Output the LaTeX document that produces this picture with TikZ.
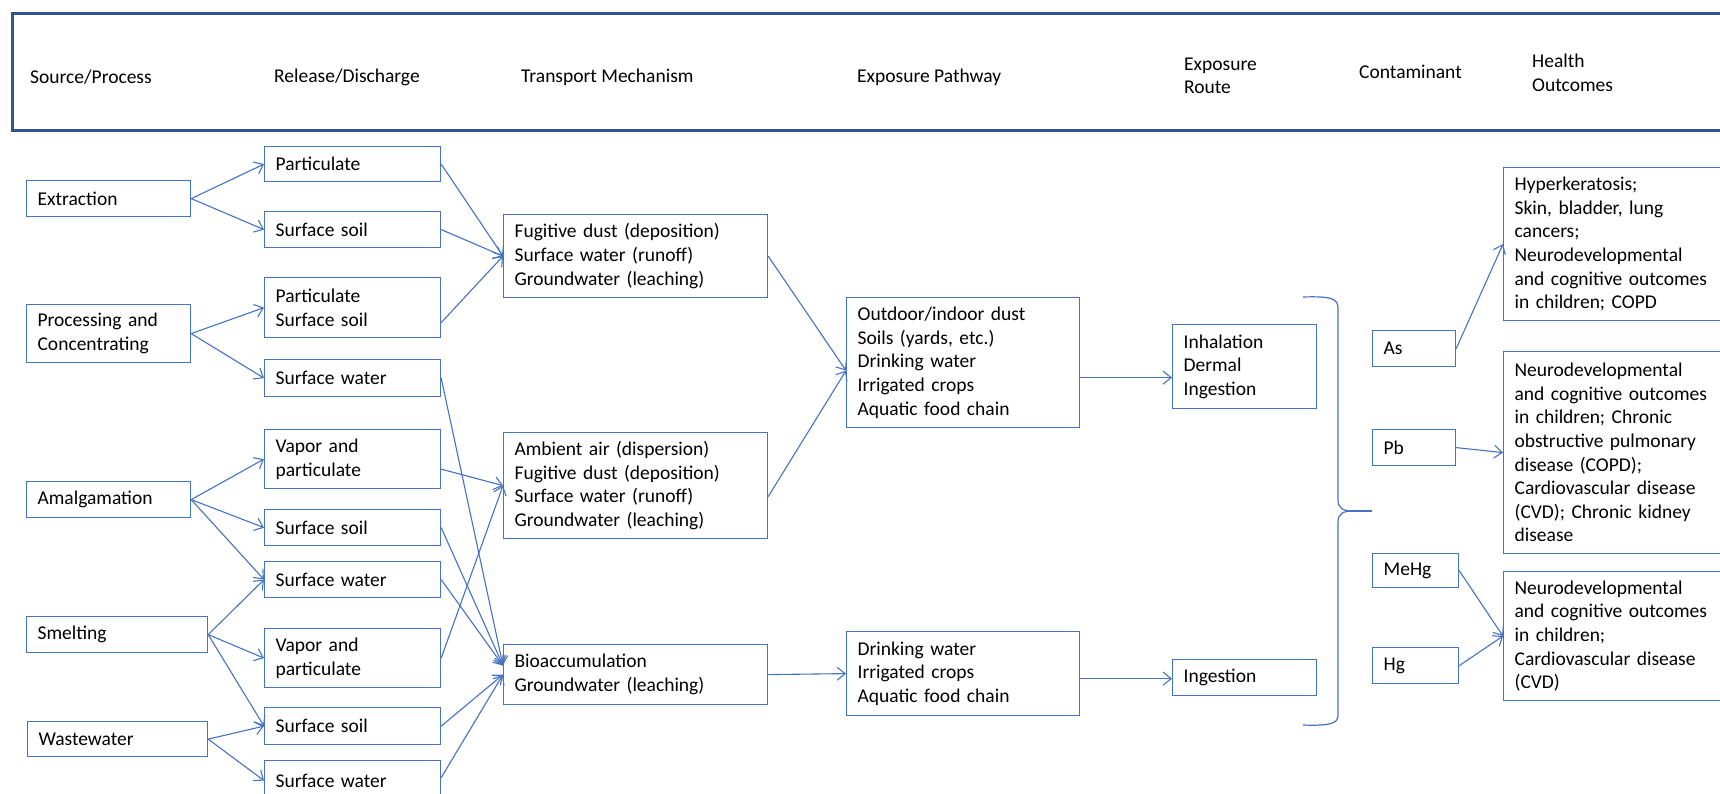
\documentclass[tikz,border=0pt]{standalone}
\usepackage{fontspec}
\setmainfont{Carlito}
\usepackage{tikz}
\usetikzlibrary{arrows.meta, positioning}

\definecolor{boxblue}{RGB}{68,114,196}
\definecolor{headblue}{RGB}{47,85,151}
\newcommand\boxfont{\fontsize{19.5}{23.6}\selectfont}

\begin{document}
\begin{tikzpicture}[x=1pt, y=-1pt,
    box/.style 2 args={draw=boxblue, line width=1.2pt, anchor=north west, align=left,
        inner xsep=11pt, inner ysep=0pt, minimum width=#1, minimum height=#2,
        text width=#1-22pt, font=\boxfont},
    head/.style={anchor=west, align=left, inner sep=0pt, font=\boxfont},
    arr/.style={draw=boxblue, line width=1.1pt, -{Straight Barb[length=8pt, width=13pt]}}]
    \useasboundingbox (0,0) rectangle (1720,793);
    \clip (0,0) rectangle (1720,793);

    % header band
    \draw[headblue, line width=3pt] (1740,13) -- (12,13) -- (12,130) -- (1740,130);
    \node[head] (hsrc) at (30,77) {Source/Process};
    \node[head] (hrel) at (274,77) {Release/Discharge};
    \node[head] (htra) at (521,77) {Transport Mechanism};
    \node[head] (hpat) at (857,77) {Exposure Pathway};
    \node[head] (hrou) at (1184,76) {Exposure\\Route};
    \node[head] (hcon) at (1359,72) {Contaminant};
    \node[head] (hout) at (1532,73) {Health\\Outcomes};

    % sources
    \node[box={164pt}{36pt}] (ext) at (26,180) {Extraction};
    \node[box={164pt}{58pt}] (proc) at (26,304) {Processing and\\Concentrating};
    \node[box={164pt}{36pt}] (amal) at (26,481) {Amalgamation};
    \node[box={181pt}{36pt}] (smelt) at (26,616) {Smelting};
    \node[box={180pt}{35pt}] (waste) at (27,721) {Wastewater};

    % releases
    \node[box={176pt}{35pt}] (part1) at (264,146) {Particulate};
    \node[box={176pt}{36pt}] (soil1) at (264,211) {Surface soil};
    \node[box={176pt}{60pt}] (psoil) at (264,277) {Particulate\\Surface soil};
    \node[box={176pt}{37pt}] (water1) at (264,359) {Surface water};
    \node[box={176pt}{59pt}] (vapor1) at (264,429) {Vapor and\\particulate};
    \node[box={176pt}{36pt}] (soil2) at (264,509) {Surface soil};
    \node[box={176pt}{36pt}] (water2) at (264,561) {Surface water};
    \node[box={176pt}{59pt}] (vapor2) at (264,628) {Vapor and\\particulate};
    \node[box={176pt}{37pt}] (soil3) at (264,707) {Surface soil};
    \node[box={176pt}{40pt}] (water3) at (264,760) {Surface water};

    % transport
    \node[box={264pt}{83pt}] (trans1) at (503,214) {Fugitive dust (deposition)\\Surface water (runoff)\\Groundwater (leaching)};
    \node[box={264pt}{106pt}] (trans2) at (503,432) {Ambient air (dispersion)\\Fugitive dust (deposition)\\Surface water (runoff)\\Groundwater (leaching)};
    \node[box={264pt}{60pt}] (trans3) at (503,644) {Bioaccumulation\\Groundwater (leaching)};

    % pathways and routes
    \node[box={233pt}{130pt}] (path1) at (846,297) {Outdoor/indoor dust\\Soils (yards, etc.)\\Drinking water\\Irrigated crops\\Aquatic food chain};
    \node[box={233pt}{84pt}] (path2) at (846,631) {Drinking water\\Irrigated crops\\Aquatic food chain};
    \node[box={144pt}{84pt}] (route1) at (1172,324) {Inhalation\\Dermal\\Ingestion};
    \node[box={144pt}{36pt}] (route2) at (1172,659) {Ingestion};

    % contaminants
    \node[box={83pt}{36pt}] (as) at (1372,330) {As};
    \node[box={83pt}{36pt}] (pb) at (1372,429) {Pb};
    \node[box={86pt}{34pt}] (mehg) at (1372,553) {MeHg};
    \node[box={86pt}{36pt}] (hg) at (1372,647) {Hg};

    % health outcomes
    \node[box={240pt}{153pt}] (out1) at (1503,167) {Hyperkeratosis;\\Skin, bladder, lung\\cancers;\\Neurodevelopmental\\and cognitive outcomes\\in children; COPD};
    \node[box={240pt}{202pt}] (out2) at (1503,351) {Neurodevelopmental\\and cognitive outcomes\\in children; Chronic\\obstructive pulmonary\\disease (COPD);\\Cardiovascular disease\\(CVD); Chronic kidney\\disease};
    \node[box={240pt}{129pt}] (out3) at (1503,571) {Neurodevelopmental\\and cognitive outcomes\\in children;\\Cardiovascular disease\\(CVD)};

    % brace
    \draw[boxblue, line width=1.2pt] (1303,297) .. controls (1332,296) and (1338,299) .. (1338,308)
        -- (1338,500) .. controls (1338,508) and (1343,511) .. (1352,511)
        .. controls (1343,511) and (1338,514) .. (1338,522)
        -- (1338,715) .. controls (1338,723) and (1332,726) .. (1303,725);
    \draw[boxblue, line width=2.6pt] (1346,511) -- (1372,511);

    \draw[arr] (ext.east) -- (part1.west);
    \draw[arr] (ext.east) -- (soil1.west);
    \draw[arr] (proc.east) -- (psoil.west);
    \draw[arr] (proc.east) -- (water1.west);
    \draw[arr] (amal.east) -- (vapor1.west);
    \draw[arr] (amal.east) -- (soil2.west);
    \draw[arr] (amal.east) -- (water2.west);
    \draw[arr] (smelt.east) -- (water2.west);
    \draw[arr] (smelt.east) -- (vapor2.west);
    \draw[arr] (smelt.east) -- (soil3.west);
    \draw[arr] (waste.east) -- (soil3.west);
    \draw[arr] (waste.east) -- (water3.west);

    \draw[arr] (part1.east) -- (trans1.west);
    \draw[arr] (soil1.east) -- (trans1.west);
    \draw[arr] ([yshift=-15pt]psoil.east) -- (trans1.west);
    \draw[arr] ([yshift=-10pt]vapor1.east) -- (trans2.west);
    \draw[arr] (vapor2.east) -- (trans2.west);
    \draw[arr] (water1.east) -- ([yshift=9pt]trans3.west);
    \draw[arr] (soil2.east) -- ([yshift=9pt]trans3.west);
    \draw[arr] (water2.east) -- ([yshift=9pt]trans3.west);
    \draw[arr] (soil3.east) -- (trans3.west);
    \draw[arr] ([yshift=3pt]water3.east) -- (trans3.west);

    \draw[arr] (trans1.east) -- ([yshift=-8pt]path1.west);
    \draw[arr] ([yshift=-11pt]trans2.east) -- ([yshift=-8pt]path1.west);
    \draw[arr] (trans3.east) -- (path2.west);

    \draw[arr] ([yshift=-15pt]path1.east) -- ([yshift=-15pt]path1.east -| route1.west);
    \draw[arr] ([yshift=-5pt]path2.east) -- ([yshift=-5pt]path2.east -| route2.west);

    \draw[arr] (as.east) -- (out1.west);
    \draw[arr] (pb.east) -- (out2.west);
    \draw[arr] (mehg.east) -- (out3.west);
    \draw[arr] (hg.east) -- (out3.west);
\end{tikzpicture}
\end{document}
